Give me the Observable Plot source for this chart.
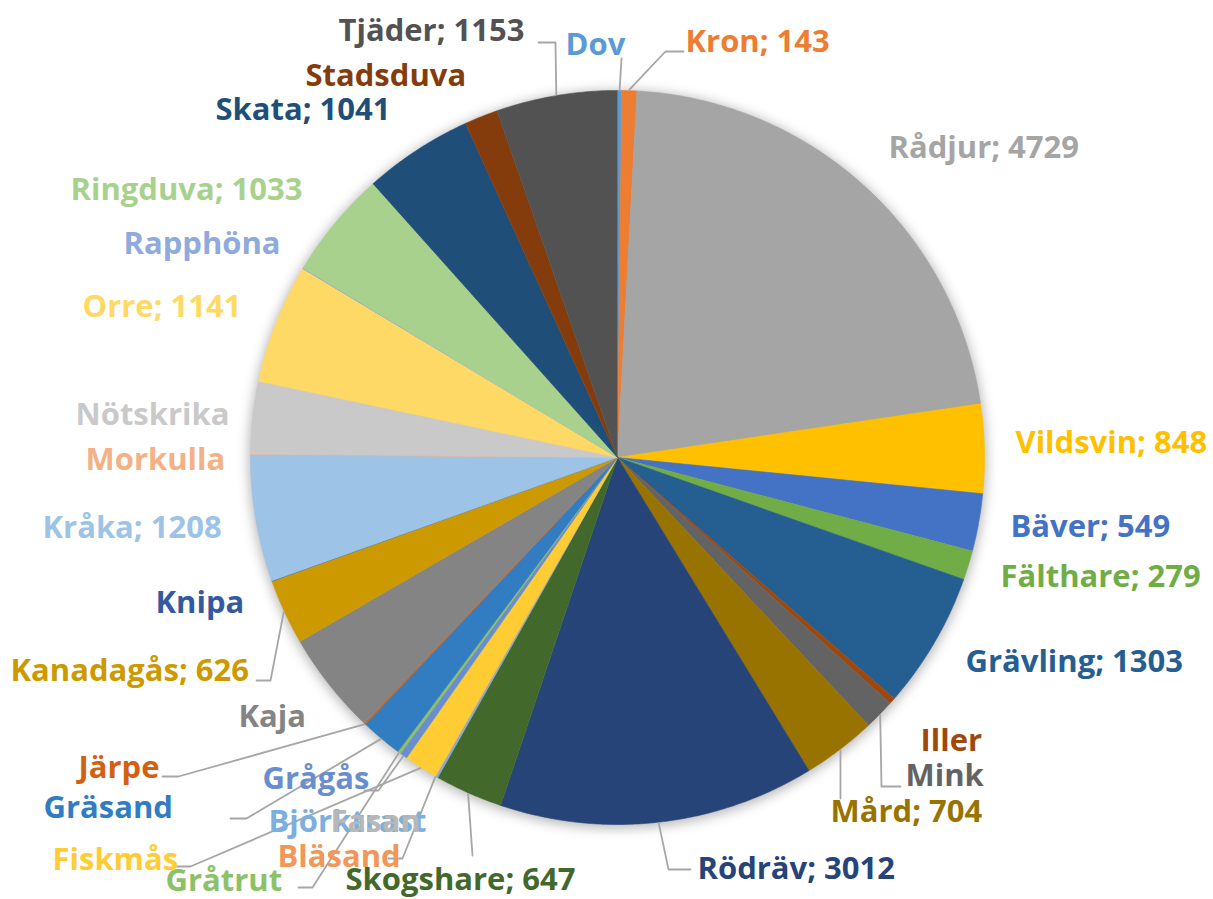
<!DOCTYPE html>
<html><head><meta charset="utf-8">
<script src="https://cdn.jsdelivr.net/npm/d3@7"></script>
<script src="https://cdn.jsdelivr.net/npm/@observablehq/plot@0.6"></script>
<style>body{margin:0;background:#fff}</style>
</head><body><div id="chart"></div>
<script>
// ---- data ----
const species = ["Dov","Kron","Rådjur","Vildsvin","Bäver","Fälthare","Grävling","Iller","Mink","Mård","Rödräv","Skogshare","Björktrast","Bläsand","Fasan","Fiskmås","Grågås","Gråtrut","Gräsand","Järpe","Kaja","Kanadagås","Knipa","Kråka","Morkulla","Nötskrika","Orre","Rapphöna","Ringduva","Skata","Stadsduva","Tjäder"];
const counts = [40,143,4729,848,549,279,1303,60,290,704,3012,647,20,4,3,320,70,30,400,15,980,626,3,1208,8,690,1141,8,1033,1041,320,1153];
const showValue = [false,true,true,true,true,true,true,false,false,true,true,true,false,false,false,false,false,false,false,false,false,true,false,true,false,false,true,false,true,true,false,true];

// ---- styles ----
const palette = ["#5B9BD5","#ED7D31","#A5A5A5","#FFC000","#4472C4","#70AD47","#255E91","#9E480E","#636363","#997300","#264478","#43682B","#7CAFDD","#F1975A","#B7B7B7","#FFCD33","#698ED0","#8CC168","#327DC2","#D26012","#848484","#CC9A00","#335AA1","#9DC3E6","#F4B183","#C9C9C9","#FFD966","#8FAADC","#A9D18E","#1F4E79","#843C0C","#525252"];

// ---- layout ----
const W = 1213, H = 899, cx = 617, cy = 457, R = 367;
const labelPos = {
  "Tjäder":[338,31],"Dov":[565,45],"Kron":[685,42],"Stadsduva":[305,76],"Skata":[215,110],
  "Rådjur":[888,148],"Ringduva":[70,190],"Rapphöna":[123,244],"Orre":[82,307],"Nötskrika":[75,415],
  "Morkulla":[85,460],"Kråka":[42,528],"Knipa":[155,603],"Kanadagås":[10,671],"Kaja":[238,717],
  "Järpe":[78,768],"Grågås":[262,779],"Gräsand":[43,808],"Björktrast":[268,822],"Fasan":[330,822],
  "Bläsand":[277,857],"Fiskmås":[52,860],"Gråtrut":[165,881],"Skogshare":[345,880],
  "Vildsvin":[1015,443],"Bäver":[1010,527],"Fälthare":[1000,577],"Grävling":[965,662],
  "Iller":[920,741],"Mink":[905,776],"Mård":[830,812],"Rödräv":[697,869]
};
const leaderElbows = {
  "Tjäder":[[538,42],[555,42]], "Dov":[[621,58]], "Kron":[[683,51],[665,51]],
  "Kanadagås":[[256,680],[270,680]], "Järpe":[[162,776],[178,776]], "Gräsand":[[230,818],[246,818]],
  "Grågås":[[364,790],[378,790]], "Fiskmås":[[176,866],[190,866]], "Gråtrut":[[298,887],[312,887]],
  "Bläsand":[[388,858],[402,858]], "Skogshare":[[472,855]], "Rödräv":[[690,869],[668,869]],
  "Mård":[[840,798]], "Mink":[[900,786],[881,786]]
};

// ---- geometry from values ----
const total = d3.sum(counts);
let acc = 0;
const slices = species.map((name, i) => {
  const a0 = acc / total * 2 * Math.PI;
  acc += counts[i];
  const a1 = acc / total * 2 * Math.PI;
  return {name, value: counts[i], color: palette[i], a0, a1, mid: (a0 + a1) / 2};
});
const px = a => cx + R * Math.sin(a), py = a => cy - R * Math.cos(a);
const piePts = [];
for (const s of slices) {
  piePts.push({name: s.name, color: s.color, x: cx, y: cy});
  const n = Math.max(2, Math.ceil((s.a1 - s.a0) / (Math.PI / 360)));
  for (let k = 0; k <= n; k++) {
    const a = s.a0 + (s.a1 - s.a0) * k / n;
    piePts.push({name: s.name, color: s.color, x: px(a), y: py(a)});
  }
}
const leaderPts = [];
for (const s of slices) {
  const el = leaderElbows[s.name];
  if (!el) continue;
  el.forEach(p => leaderPts.push({name: s.name, x: p[0], y: p[1]}));
  leaderPts.push({name: s.name, x: cx + (R + 1) * Math.sin(s.mid), y: cy - (R + 1) * Math.cos(s.mid)});
}
const labels = slices.map((s, i) => ({
  text: showValue[i] ? `${s.name}; ${s.value}` : s.name,
  color: s.color, x: labelPos[s.name][0], y: labelPos[s.name][1]
}));

const chart = Plot.plot({
  width: W, height: H, margin: 0,
  x: {domain: [0, W], range: [0, W], axis: null},
  y: {domain: [0, H], range: [0, H], axis: null},
  color: {type: "identity"},
  marks: [
    Plot.dot([0], {x: () => cx, y: () => cy + 2, r: R + 2, fill: "#000", fillOpacity: 0.28, stroke: "none"}),
    Plot.line(piePts, {x: "x", y: "y", z: "name", fill: "color", stroke: "color", strokeWidth: 0.6, curve: "linear"}),
    Plot.line(leaderPts, {x: "x", y: "y", z: "name", stroke: "#A6A6A6", strokeWidth: 1.8}),
    Plot.text(labels, {x: "x", y: "y", text: "text", fill: "color", textAnchor: "start",
      fontSize: 31, fontWeight: "bold", fontFamily: "Open Sans"})
  ]
});
const svg = d3.select(chart);
const defs = svg.insert("defs", ":first-child");
defs.append("filter").attr("id", "pieShadow").attr("x", "-20%").attr("y", "-20%").attr("width", "140%").attr("height", "140%")
  .append("feGaussianBlur").attr("stdDeviation", 6);
svg.select('g[aria-label="dot"] circle').attr("filter", "url(#pieShadow)");
document.getElementById("chart").appendChild(chart);
</script>
</body></html>
